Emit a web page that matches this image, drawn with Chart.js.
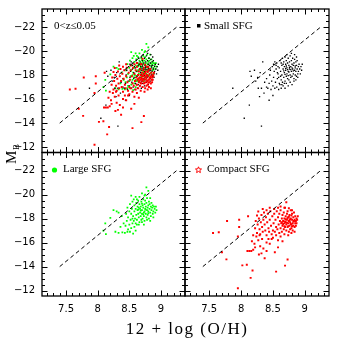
<!DOCTYPE html>
<html>
<head>
<meta charset="utf-8">
<script src="https://cdn.jsdelivr.net/npm/chart.js@4.4.0/dist/chart.umd.min.js"></script>
<style>
  html, body { margin: 0; padding: 0; background: #fff; }
  #wrap { position: relative; width: 338px; height: 338px; }
  #wrap canvas { position: absolute; left: 0; top: 0; }
</style>
</head>
<body>
<div id="wrap">
  <canvas id="tl" width="338" height="338"></canvas>
  <canvas id="tr" width="338" height="338"></canvas>
  <canvas id="bl" width="338" height="338"></canvas>
  <canvas id="br" width="338" height="338"></canvas>
</div>
<script>
// axes
const xTicks = [7.5, 8, 8.5, 9];
const yTicks = [-22, -20, -18, -16, -14, -12];
const xRange = [7.12, 9.38];
const yRange = [-23.5, -11.55];

// dashed relation
const fitLine = [[7.4, -14], [9.25, -22]];

// black: small SFG
const smallSFG = [
  [7.87,-16.9],[8.05,-14.4],[8.13,-15.5],[8.32,-13.75],[8.14,-18.3],[8.21,-18.4],[8.16,-17.9],[8.23,-17.5],
  [8.27,-16.9],[8.34,-19.1],[8.29,-16.2],[8.32,-16.9],[8.40,-17.0],[8.50,-16.3],[8.44,-15.9],[8.36,-16.5],
  [8.26,-17.8],[8.30,-18.2],
  [8.37,-17.4],[8.40,-17.7],[8.42,-16.9],[8.44,-17.3],[8.45,-18.0],[8.47,-16.8],[8.48,-17.5],[8.50,-17.1],
  [8.51,-17.8],[8.53,-16.9],[8.54,-17.4],[8.56,-17.0],[8.57,-17.7],[8.59,-16.8],[8.60,-17.3],[8.58,-18.1],
  [8.46,-18.4],[8.49,-18.7],[8.52,-18.3],[8.55,-18.8],
  [8.60,-18.6],[8.61,-19.2],[8.62,-17.9],[8.62,-18.3],[8.63,-19.0],[8.63,-17.6],[8.64,-18.8],[8.64,-18.0],
  [8.65,-19.4],[8.65,-17.4],[8.66,-18.5],[8.66,-18.9],[8.67,-17.8],[8.67,-19.1],[8.68,-18.2],[8.68,-18.7],
  [8.69,-17.5],[8.69,-19.5],[8.70,-18.4],[8.70,-18.9],[8.71,-17.9],[8.71,-19.2],[8.72,-18.1],[8.72,-18.6],
  [8.73,-17.7],[8.73,-19.0],[8.74,-18.3],[8.74,-19.4],[8.75,-18.8],[8.75,-17.6],[8.76,-18.5],[8.76,-19.1],
  [8.77,-18.0],[8.77,-19.6],[8.78,-18.7],[8.78,-17.8],[8.79,-18.3],[8.79,-19.2],[8.80,-18.9],[8.80,-17.9],
  [8.81,-18.5],[8.81,-19.4],[8.82,-18.1],[8.82,-18.8],[8.83,-19.0],[8.83,-17.7],[8.84,-18.4],[8.84,-19.3],
  [8.85,-18.6],[8.85,-18.0],[8.86,-19.1],[8.86,-18.3],[8.87,-18.8],[8.87,-17.9],[8.88,-18.5],[8.88,-19.2],
  [8.89,-18.1],[8.90,-18.7],[8.90,-18.3],[8.91,-18.9],[8.92,-18.5],[8.93,-18.1],[8.94,-18.7],[8.95,-18.4],
  [8.96,-18.9],[8.79,-19.8],[8.84,-19.7],[8.72,-19.7],[8.87,-19.5],
  [8.55,-18.5],[8.56,-19.0],[8.57,-18.2],[8.58,-18.7],[8.59,-17.8],[8.53,-19.1],[8.51,-18.9],[8.61,-17.2],
  [8.63,-16.9],[8.66,-17.1],[8.69,-16.9],[8.71,-17.3],[8.74,-17.1],[8.77,-17.4],[8.80,-17.2],[8.83,-17.5],
  [8.86,-17.6],[8.89,-17.8],[8.68,-17.3],[8.64,-17.2],
  [8.70,-18.55],[8.75,-18.25],[8.78,-18.45],[8.82,-18.35],[8.73,-18.45],[8.67,-18.35],[8.71,-18.75],[8.76,-18.65],
  [8.80,-18.6],[8.85,-18.75],[8.69,-18.05],[8.74,-17.95]
];

// green: large SFG
const largeSFG = [
  [8.09,-17.0],[8.12,-17.6],[8.13,-16.7],[8.25,-18.7],[8.28,-16.9],[8.33,-16.8],[8.43,-16.8],[8.51,-16.9],
  [8.56,-16.75],[8.20,-18.05],[8.30,-18.6],[8.36,-17.3],[8.39,-16.85],[8.47,-16.9],[8.77,-20.6],[8.80,-20.3],
  [8.75,-20.0],[8.53,-19.9],[8.60,-19.8],[8.33,-18.5],[8.38,-18.2],[8.41,-17.6],
  [8.44,-17.4],[8.48,-17.1],[8.50,-17.5],[8.53,-17.2],[8.55,-17.6],[8.58,-17.3],[8.60,-17.0],[8.62,-17.5],
  [8.46,-17.8],
  [8.45,-18.4],[8.47,-18.9],[8.48,-18.1],[8.50,-18.6],[8.51,-19.2],[8.52,-17.9],[8.53,-18.4],[8.54,-18.8],
  [8.55,-19.4],[8.56,-18.2],[8.57,-17.8],[8.58,-18.6],[8.58,-19.1],[8.59,-18.0],[8.60,-18.8],[8.61,-19.3],
  [8.61,-18.3],[8.62,-17.9],[8.63,-18.7],[8.63,-19.0],[8.64,-18.4],[8.64,-19.5],[8.65,-18.1],[8.65,-18.9],
  [8.66,-17.7],[8.66,-19.2],[8.67,-18.5],[8.67,-18.8],[8.68,-19.0],[8.68,-18.2],[8.69,-19.4],[8.69,-17.9],
  [8.70,-18.7],[8.70,-18.4],[8.71,-19.1],[8.71,-18.0],[8.72,-18.9],[8.72,-19.6],[8.73,-18.5],[8.73,-18.2],
  [8.74,-19.2],[8.74,-17.8],[8.75,-18.8],[8.75,-19.5],[8.76,-18.4],[8.76,-19.0],[8.77,-18.1],[8.77,-19.3],
  [8.78,-18.7],[8.78,-19.7],[8.79,-18.9],[8.79,-18.3],[8.80,-19.1],[8.80,-18.6],[8.81,-19.4],[8.81,-18.0],
  [8.82,-18.8],[8.82,-19.2],[8.83,-18.5],[8.84,-19.0],[8.84,-18.2],[8.85,-18.7],[8.85,-19.3],[8.86,-18.9],
  [8.87,-18.4],[8.87,-19.1],[8.88,-18.6],[8.89,-19.0],[8.90,-18.8],[8.91,-18.5],[8.92,-19.0],[8.93,-18.7],
  [8.66,-19.8],[8.70,-20.1],[8.74,-19.9],[8.83,-19.7],[8.62,-19.6],[8.57,-19.6],
  [8.55,-18.0],[8.60,-17.6],[8.65,-17.5],[8.70,-17.7],[8.73,-17.5],[8.78,-17.9],[8.83,-17.8],[8.88,-18.1],
  [8.68,-18.65],[8.72,-18.35],[8.76,-18.75],[8.80,-18.45],[8.64,-18.75],[8.70,-19.25],[8.74,-18.6]
];

// red: compact SFG
const compactSFG = [
  [7.56,-16.8],[7.65,-16.85],[7.78,-17.8],[7.70,-15.2],[7.77,-14.6],[7.97,-17.9],[7.97,-17.3],[7.95,-16.5],
  [8.02,-14.1],[8.09,-14.15],[8.18,-13.67],[8.15,-13.06],[7.95,-12.2],[8.55,-13.58],[8.73,-14.58],[8.69,-14.08],
  [8.11,-18.2],[8.27,-18.58],[8.25,-18.25],[8.10,-15.3],[8.13,-15.3],[8.16,-15.3],[8.19,-15.4],[8.22,-15.6],
  [8.27,-16.2],[8.17,-16.1],[8.30,-15.7],[8.40,-16.0],[8.40,-15.3],[8.37,-14.7],[8.53,-15.2],[8.58,-15.6],
  [8.21,-15.9],[8.24,-16.5],[8.29,-16.6],[8.19,-16.6],[8.33,-16.3],[8.35,-15.5],[8.45,-15.9],[8.48,-16.3],
  [8.32,-15.1],[8.28,-15.0],
  [8.22,-17.2],[8.23,-17.8],[8.25,-16.8],[8.26,-17.5],[8.28,-18.0],[8.29,-17.1],[8.30,-16.7],[8.31,-17.7],
  [8.32,-18.3],[8.33,-17.3],[8.34,-16.9],[8.35,-17.9],[8.36,-18.5],[8.37,-17.5],[8.38,-17.0],[8.39,-18.1],
  [8.40,-16.6],[8.41,-17.7],[8.42,-18.4],[8.43,-17.2],[8.44,-16.9],[8.45,-17.9],[8.46,-18.6],[8.47,-17.4],
  [8.48,-16.7],[8.49,-18.2],[8.50,-17.0],
  [8.51,-17.6],[8.52,-18.4],[8.53,-16.9],[8.54,-17.9],[8.55,-17.3],[8.56,-18.6],[8.57,-17.1],[8.58,-18.1],
  [8.59,-17.5],[8.60,-16.8],[8.60,-18.4],[8.61,-17.8],[8.62,-17.2],[8.62,-18.7],[8.63,-17.6],[8.64,-18.0],
  [8.64,-16.9],[8.65,-17.4],[8.65,-18.3],[8.66,-17.8],[8.67,-17.1],[8.67,-18.5],[8.68,-17.6],[8.68,-18.0],
  [8.69,-17.3],[8.69,-18.9],[8.70,-17.7],[8.70,-18.2],[8.71,-17.0],[8.71,-17.5],[8.72,-18.4],[8.72,-17.9],
  [8.73,-17.3],[8.73,-18.6],[8.74,-17.6],[8.74,-18.1],[8.75,-16.9],[8.75,-17.8],[8.76,-17.4],[8.76,-18.3],
  [8.77,-17.1],[8.77,-17.7],[8.78,-18.0],[8.78,-18.7],[8.79,-17.5],[8.79,-17.2],[8.80,-17.9],[8.80,-18.4],
  [8.81,-17.6],[8.81,-17.0],[8.82,-18.1],[8.82,-17.4],[8.83,-17.8],[8.83,-18.5],[8.84,-17.3],[8.84,-17.9],
  [8.85,-17.6],[8.85,-18.2],[8.86,-17.8],[8.86,-17.4],[8.87,-18.0],[8.87,-17.6],[8.88,-17.9],[8.89,-18.2],
  [8.66,-17.55],[8.68,-17.35],[8.70,-17.95],[8.72,-17.65],[8.74,-17.35],[8.76,-17.85],[8.78,-17.55],[8.80,-17.35],
  [8.82,-17.75],[8.73,-18.05],[8.69,-17.75],[8.75,-18.15],[8.79,-18.25],[8.64,-17.7],[8.77,-17.95],
  [8.71,-19.36],[8.62,-19.0],[8.68,-18.9],[8.75,-18.85],[8.80,-18.7],[8.45,-18.9],[8.52,-18.8],[8.58,-18.9],
  [8.40,-18.7],[8.34,-18.8],
  [8.55,-16.6],[8.62,-16.5],[8.68,-16.7],[8.74,-16.6],[8.79,-16.8],[8.84,-16.9],[8.50,-16.4],[8.58,-16.2],
  [8.65,-16.1],[8.43,-16.3]
];

const pts = arr => arr.map(p => ({x: p[0], y: p[1]}));
const minus = v => v < 0 ? '\u2212' + Math.abs(v) : String(v);

const series = {
  small: {data: pts(smallSFG), backgroundColor: '#000', pointStyle: 'rect', pointRadius: 0.95, order: 2},
  large: {data: pts(largeSFG), backgroundColor: '#00ff00', pointStyle: 'rect', pointRadius: 1.25, order: 3},
  compact: {data: pts(compactSFG), backgroundColor: '#ff0000', pointStyle: 'rect', pointRadius: 1.4, order: 1}
};

// frame with inward ticks on all four sides, plus panel label
function tickFrame(note, extra) {
  return {
    id: 'tickFrame',
    afterDatasetsDraw(chart) {
      const {ctx, chartArea: a, scales: {x, y}} = chart;
      ctx.save();
      ctx.strokeStyle = '#000';
      ctx.lineWidth = 1;
      ctx.beginPath();
      for (let i = 72; i <= 93; i++) {
        const px = Math.round(x.getPixelForValue(i / 10)) + 0.5;
        const len = i % 5 === 0 ? 5.5 : 3;
        ctx.moveTo(px, a.bottom); ctx.lineTo(px, a.bottom - len);
        ctx.moveTo(px, a.top); ctx.lineTo(px, a.top + len);
      }
      for (let i = -46; i <= -24; i++) {
        const py = Math.round(y.getPixelForValue(i / 2)) + 0.5;
        const len = i % 4 === 0 ? 5.5 : 3;
        ctx.moveTo(a.left, py); ctx.lineTo(a.left + len, py);
        ctx.moveTo(a.right, py); ctx.lineTo(a.right - len, py);
      }
      ctx.stroke();
      ctx.lineWidth = 1.3;
      ctx.strokeRect(a.left, a.top, a.right - a.left, a.bottom - a.top);
      if (note) note(ctx, a);
      if (extra) extra(ctx);
      ctx.restore();
    }
  };
}

function star(ctx, cx, cy, r) {
  ctx.beginPath();
  for (let k = 0; k < 10; k++) {
    const rr = k % 2 ? r * 0.45 : r;
    const ang = -Math.PI / 2 + k * Math.PI / 5;
    const px = cx + rr * Math.cos(ang), py = cy + rr * Math.sin(ang);
    k ? ctx.lineTo(px, py) : ctx.moveTo(px, py);
  }
  ctx.closePath();
}

function panel(id, area, showX, showY, sets, note, extra) {
  const datasets = sets.map(k => Object.assign({borderWidth: 0}, series[k]));
  datasets.push({
    data: pts(fitLine), showLine: true, borderColor: '#000', borderWidth: 1,
    borderDash: [4, 3], pointRadius: 0, order: 0
  });
  return new Chart(document.getElementById(id), {
    type: 'scatter',
    data: {datasets},
    options: {
      responsive: false,
      animation: false,
      events: [],
      layout: {
        padding: {
          left: showY ? area.l - 42 : area.l,
          top: area.t,
          right: 338 - area.r,
          bottom: showX ? 338 - area.b - 42 : 338 - area.b
        }
      },
      scales: {
        x: {
          type: 'linear', min: xRange[0], max: xRange[1], display: showX,
          grid: {display: false, drawTicks: false}, border: {display: false},
          afterBuildTicks: s => { s.ticks = xTicks.map(v => ({value: v})); },
          afterFit: s => { if (showX) { s.height = 42; s.paddingLeft = 0; s.paddingRight = 0; } },
          ticks: {padding: 7, autoSkip: false, maxRotation: 0, color: '#000',
                  font: {family: 'DejaVu Sans', size: 10}, callback: v => String(v)}
        },
        y: {
          type: 'linear', min: yRange[0], max: yRange[1], reverse: true, display: showY,
          grid: {display: false, drawTicks: false}, border: {display: false},
          afterBuildTicks: s => { s.ticks = yTicks.map(v => ({value: v})); },
          afterFit: s => { if (showY) { s.width = 42; s.paddingTop = 0; s.paddingBottom = 0; } },
          ticks: {padding: 7, autoSkip: false, color: '#000',
                  font: {family: 'DejaVu Sans', size: 10}, callback: v => minus(v)}
        }
      },
      plugins: {
        legend: {display: false},
        tooltip: {enabled: false}
      }
    },
    plugins: [tickFrame(note, extra)]
  });
}

const labelFont = '11px "Liberation Serif"';

panel('tl', {l: 42, t: 9, r: 185, b: 152.5}, false, true, ['compact', 'small', 'large'], (ctx, a) => {
  ctx.fillStyle = '#000';
  ctx.font = labelFont;
  ctx.textBaseline = 'middle';
  ctx.fillText('0<z\u22640.05', a.left + 12, a.top + 17);
});

panel('tr', {l: 185, t: 9, r: 329, b: 152.5}, false, false, ['small'], (ctx, a) => {
  ctx.fillStyle = '#000';
  ctx.fillRect(a.left + 12, a.top + 15, 3.5, 3.5);
  ctx.font = labelFont;
  ctx.textBaseline = 'middle';
  ctx.fillText('Small SFG', a.left + 19, a.top + 17);
});

panel('bl', {l: 42, t: 152.5, r: 185, b: 296}, true, true, ['large'], (ctx, a) => {
  ctx.fillStyle = '#00ff00';
  ctx.beginPath();
  ctx.arc(a.left + 12.5, a.top + 17.5, 2.6, 0, Math.PI * 2);
  ctx.fill();
  ctx.fillStyle = '#000';
  ctx.font = labelFont;
  ctx.textBaseline = 'middle';
  ctx.fillText('Large SFG', a.left + 21, a.top + 17);
}, ctx => {
  // axis titles
  ctx.fillStyle = '#000';
  ctx.textBaseline = 'alphabetic';
  ctx.font = '17px "Liberation Serif"';
  ctx.letterSpacing = '1.5px';
  ctx.textAlign = 'center';
  ctx.fillText('12 + log (O/H)', 187, 334);
  ctx.letterSpacing = '0px';
  ctx.save();
  ctx.translate(15.5, 158);
  ctx.rotate(-Math.PI / 2);
  ctx.textAlign = 'left';
  ctx.font = '15px "Liberation Serif"';
  ctx.fillText('M', -6, 0);
  ctx.font = '9px "Liberation Serif"';
  ctx.fillText('B', 8, 3);
  ctx.restore();
});

panel('br', {l: 185, t: 152.5, r: 329, b: 296}, true, false, ['compact'], (ctx, a) => {
  ctx.strokeStyle = '#ff0000';
  ctx.lineWidth = 1;
  star(ctx, a.left + 13.5, a.top + 17.5, 3.2);
  ctx.stroke();
  ctx.fillStyle = '#000';
  ctx.font = labelFont;
  ctx.textBaseline = 'middle';
  ctx.fillText('Compact SFG', a.left + 22, a.top + 17);
});
</script>
</body>
</html>
